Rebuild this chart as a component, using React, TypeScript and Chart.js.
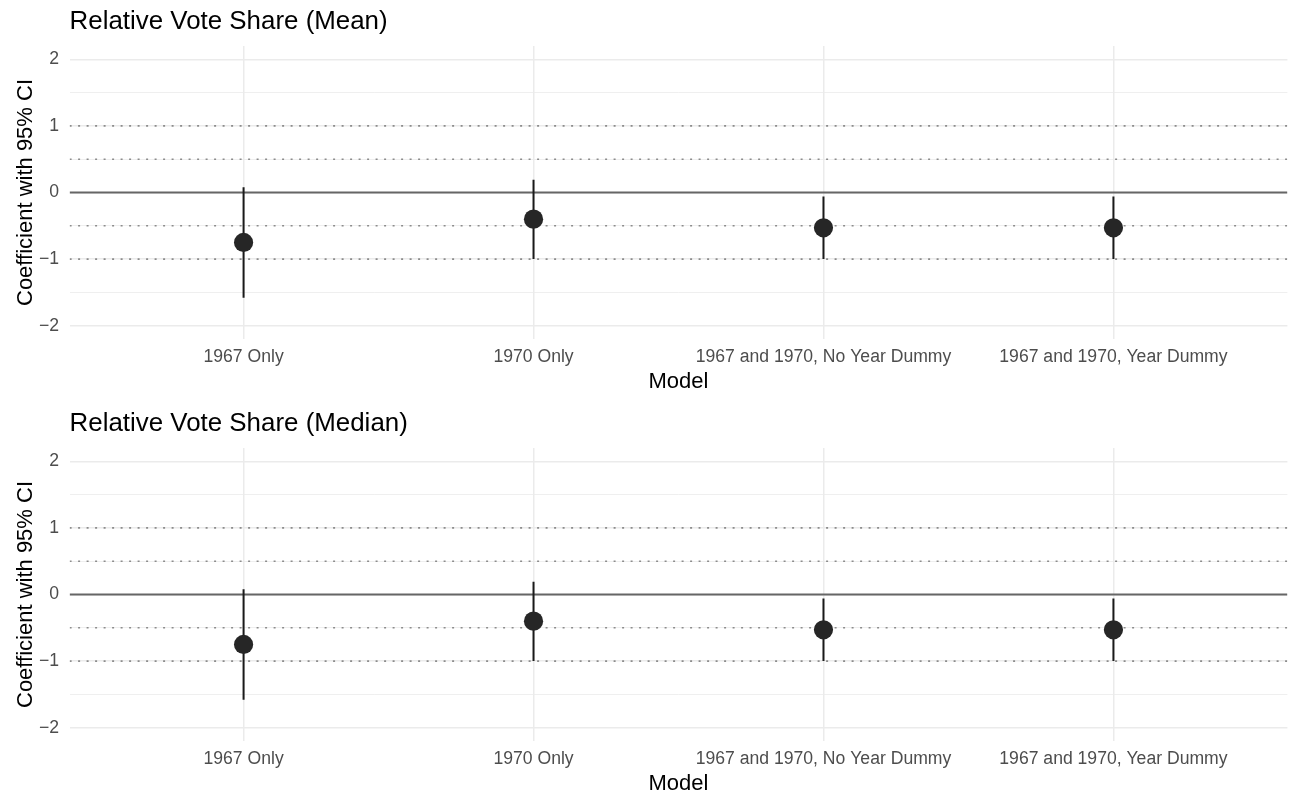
import React, { useEffect, useRef } from "react";
import { Chart, registerables } from "chart.js";

Chart.register(...registerables);

const FONT = "'Liberation Sans', Arial, Helvetica, sans-serif";

const categories = [
  "1967 Only",
  "1970 Only",
  "1967 and 1970, No Year Dummy",
  "1967 and 1970, Year Dummy",
];

const meanEstimates = [-0.75, -0.4, -0.53, -0.53];
const meanLower = [-1.58, -1.0, -1.0, -1.0];
const meanUpper = [0.08, 0.19, -0.06, -0.06];

const medianEstimates = [-0.75, -0.4, -0.53, -0.53];
const medianLower = [-1.58, -1.0, -1.0, -1.0];
const medianUpper = [0.08, 0.19, -0.06, -0.06];

const yTicks = [-2, -1.5, -1, -0.5, 0, 0.5, 1, 1.5, 2];
const dottedRefLines = [-1, -0.5, 0.5, 1];
const solidRefLines = [0];

const X_MIN = 0.4;
const X_MAX = 4.6;

type PanelProps = {
  title: string;
  est: number[];
  lo: number[];
  hi: number[];
  top: number;
  height: number;
};

function Panel({ title, est, lo, hi, top, height }: PanelProps) {
  const ref = useRef<HTMLCanvasElement>(null);

  useEffect(() => {
    if (!ref.current) return;
    const xs = categories.map((_, i) => i + 1);

    const dotted = dottedRefLines.map((v) => ({
      data: [
        { x: X_MIN, y: v },
        { x: X_MAX, y: v },
      ],
      showLine: true,
      borderColor: "#8c8c8c",
      borderWidth: 1.6,
      borderDash: [2, 6.5],
      pointRadius: 0,
      order: 4,
    }));
    const solid = solidRefLines.map((v) => ({
      data: [
        { x: X_MIN, y: v },
        { x: X_MAX, y: v },
      ],
      showLine: true,
      borderColor: "#666666",
      borderWidth: 2,
      pointRadius: 0,
      order: 3,
    }));
    const errs = xs.map((x, i) => ({
      data: [
        { x, y: lo[i] },
        { x, y: hi[i] },
      ],
      showLine: true,
      borderColor: "#1a1a1a",
      borderWidth: 2,
      pointRadius: 0,
      order: 2,
    }));
    const pts = {
      data: xs.map((x, i) => ({ x, y: est[i] })),
      showLine: false,
      pointRadius: 9.6,
      pointBackgroundColor: "#262626",
      pointBorderWidth: 0,
      order: 1,
    };

    const chart = new Chart(ref.current, {
      type: "scatter",
      data: { datasets: [...dotted, ...solid, ...errs, pts] as any },
      options: {
        animation: false,
        responsive: false,
        events: [],
        layout: { padding: { left: 0, right: 5.4, top: 0, bottom: 0 } },
        plugins: {
          legend: { display: false },
          tooltip: { enabled: false },
          title: {
            display: true,
            text: title,
            align: "start",
            fullSize: false,
            color: "#000000",
            font: { family: FONT, size: 25.9, weight: "normal", lineHeight: 1.2 },
            padding: { top: 6.8, bottom: 8.1 },
          },
        },
        scales: {
          x: {
            type: "linear",
            min: X_MIN,
            max: X_MAX,
            afterBuildTicks: (s: any) => {
              s.ticks = xs.map((v) => ({ value: v }));
            },
            afterFit: (s: any) => {
              s.height = 55;
            },
            ticks: {
              autoSkip: false,
              maxRotation: 0,
              minRotation: 0,
              padding: 7.6,
              color: "#4d4d4d",
              font: { family: FONT, size: 17.6 },
              callback: (v: any) => categories[Math.round(v) - 1] ?? "",
            },
            grid: { color: "#ebebeb", lineWidth: 1.5, drawTicks: false },
            border: { display: false },
            title: {
              display: true,
              text: "Model",
              color: "#000000",
              font: { family: FONT, size: 22, lineHeight: 1.1 },
              padding: { top: 0, bottom: 0 },
            },
          },
          y: {
            type: "linear",
            min: -2.2,
            max: 2.2,
            afterBuildTicks: (s: any) => {
              s.ticks = yTicks.map((v) => ({ value: v }));
            },
            afterFit: (s: any) => {
              s.width = 69.6;
            },
            ticks: {
              autoSkip: false,
              padding: 10.5,
              color: "#4d4d4d",
              font: { family: FONT, size: 17.6 },
              callback: (v: any) =>
                Number.isInteger(v) ? String(v).replace("-", "\u2212") : "",
            },
            grid: {
              color: "#ebebeb",
              lineWidth: (ctx: any) =>
                Number.isInteger(ctx.tick?.value) ? 1.5 : 0.8,
              drawTicks: false,
            },
            border: { display: false },
            title: {
              display: true,
              text: "Coefficient with 95% CI",
              color: "#000000",
              font: { family: FONT, size: 22 },
              padding: { top: 12.8, bottom: 0 },
            },
          },
        },
      },
    });
    return () => chart.destroy();
  }, [title, est, lo, hi]);

  return (
    <canvas
      ref={ref}
      width={1297}
      height={height}
      style={{ position: "absolute", left: 0, top, display: "block" }}
    />
  );
}

export default function App() {
  return (
    <div
      style={{
        position: "fixed",
        left: 0,
        top: 0,
        width: 1297,
        height: 796,
        background: "#ffffff",
        overflow: "hidden",
      }}
    >
      <Panel
        title="Relative Vote Share (Mean)"
        est={meanEstimates}
        lo={meanLower}
        hi={meanUpper}
        top={0}
        height={394}
      />
      <Panel
        title="Relative Vote Share (Median)"
        est={medianEstimates}
        lo={medianLower}
        hi={medianUpper}
        top={402}
        height={394}
      />
    </div>
  );
}
